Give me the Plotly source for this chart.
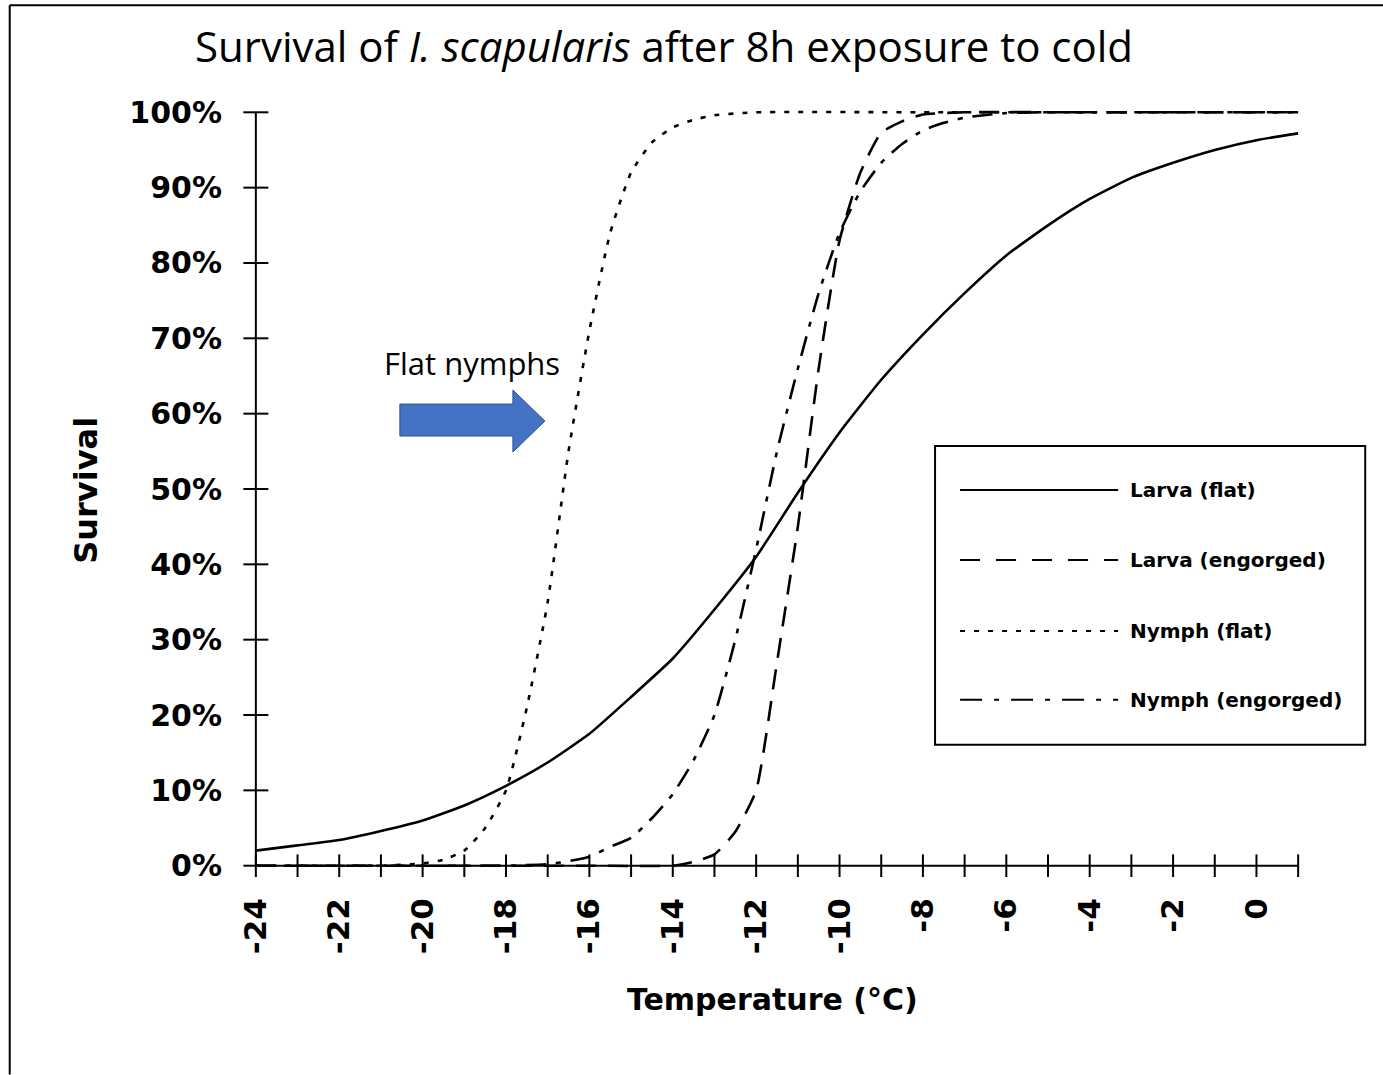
import plotly.graph_objects as go

# ---------------- data ----------------
larva_flat_temp = [-24, -23, -22, -21, -20, -19, -18, -17, -16, -15, -14, -13, -12,
                   -11, -10, -9, -8, -7, -6, -5, -4, -3, -2, -1, 0, 1]
larva_flat_surv = [2.0, 2.7, 3.4, 4.6, 6.0, 8.0, 10.6, 13.7, 17.5, 22.4, 27.5, 34.0, 41.0,
                   49.5, 57.5, 64.5, 70.5, 76.0, 81.0, 85.0, 88.5, 91.3, 93.3, 95.0, 96.3, 97.2]

larva_eng_temp = [-24, -20, -16, -14, -13.5, -13, -12.5, -12, -11.5, -11, -10.5, -10,
                  -9.5, -9, -8.5, -8, -7, -4, 0, 1]
larva_eng_surv = [0, 0, 0, 0, 0.5, 1.5, 4.5, 10.0, 27.0, 45.0, 66.0, 83.0,
                  92.0, 97.3, 98.8, 99.7, 100, 100, 100, 100]

nymph_flat_temp = [-24, -22, -21, -20, -19.5, -19, -18.5, -18, -17.5, -17, -16.5, -16,
                   -15.5, -15, -14.5, -14, -13.5, -13, -12, -8, -4, 0, 1]
nymph_flat_surv = [0, 0, 0, 0.3, 0.8, 2.0, 5.0, 10.0, 21.0, 35.0, 55.0, 71.0,
                   84.0, 92.0, 96.0, 98.0, 99.0, 99.6, 100, 100, 100, 100, 100]

nymph_eng_temp = [-24, -20, -18, -17, -16.5, -16, -15.5, -15, -14.5, -14, -13.5, -13,
                  -12.5, -12, -11.5, -11, -10.5, -10, -9.5, -9, -8.5, -8, -7.5, -7,
                  -6, -5, 0, 1]
nymph_eng_surv = [0, 0, 0, 0.2, 0.6, 1.2, 2.5, 3.7, 6.3, 9.5, 14.0, 20.0,
                  30.0, 42.0, 55.0, 66.0, 76.0, 84.0, 89.5, 93.3, 95.8, 97.6, 98.6, 99.3,
                  99.9, 100, 100, 100]

series_names = ["Larva (flat)", "Larva (engorged)", "Nymph (flat)", "Nymph (engorged)"]
series_dash = ["solid", "20px,12px", "5px,9px", "20px,10px,5px,10px"]

x_tick_vals = list(range(-24, 1, 2))
x_tick_text = [str(v) for v in x_tick_vals]
y_tick_vals = list(range(0, 101, 10))
y_tick_text = [f"{v}%" for v in y_tick_vals]
x_minor = list(range(-24, 2))

title_html = "Survival of <i>I. scapularis</i> after 8h exposure to cold"

# ---------------- layout geometry ----------------
W, H = 1383, 1075
XR = [-24.5, 1.5]
YR = [-1.5, 101.5]
L, R, T, B = 235.2, 64.2, 100.7, 197.7
PW = W - L - R
PH = H - T - B


def px(xp):
    return (xp - L) / PW


def py(yp):
    return 1 - (yp - T) / PH


BOLD = "DejaVu Sans"

fig = go.Figure()
series = [
    (larva_flat_temp, larva_flat_surv),
    (larva_eng_temp, larva_eng_surv),
    (nymph_flat_temp, nymph_flat_surv),
    (nymph_eng_temp, nymph_eng_surv),
]
for (xs, ys), name, dash in zip(series, series_names, series_dash):
    fig.add_trace(go.Scatter(
        x=xs, y=ys, mode="lines", name=name,
        line=dict(color="black", width=2.6, dash=dash, shape="spline", smoothing=0.5),
        showlegend=False,
    ))

shapes = []
# axis lines
shapes.append(dict(type="line", xref="x", yref="y", x0=-24, x1=1, y0=0, y1=0,
                   line=dict(color="black", width=2)))
shapes.append(dict(type="line", xref="x", yref="y", x0=-24, x1=-24, y0=0, y1=100,
                   line=dict(color="black", width=2)))
# crossing ticks
for v in x_minor:
    shapes.append(dict(type="line", xref="x", yref="y", x0=v, x1=v, y0=-1.6, y1=1.5,
                       line=dict(color="black", width=2)))
for v in y_tick_vals:
    shapes.append(dict(type="line", xref="x", yref="y", x0=-24.3, x1=-23.7, y0=v, y1=v,
                       line=dict(color="black", width=2)))

# outer frame (top and left edges)
shapes.append(dict(type="line", xref="paper", yref="paper", x0=px(10), x1=px(1383),
                   y0=py(5), y1=py(5), line=dict(color="black", width=2)))
shapes.append(dict(type="line", xref="paper", yref="paper", x0=px(10), x1=px(10),
                   y0=py(5), y1=py(1075), line=dict(color="black", width=2)))

# legend box
shapes.append(dict(type="rect", xref="paper", yref="paper", x0=px(935), x1=px(1365),
                   y0=py(446), y1=py(745), line=dict(color="black", width=2)))
legend_y = [490, 560, 631, 700]
legend_dash = ["solid", "20px,16px", "5px,9px", "22px,12px,5px,12px"]
annotations = []
for name, dash, yp in zip(series_names, legend_dash, legend_y):
    shapes.append(dict(type="line", xref="paper", yref="paper", x0=px(960), x1=px(1118),
                       y0=py(yp), y1=py(yp), line=dict(color="black", width=2, dash=dash)))
    annotations.append(dict(xref="paper", yref="paper", x=px(1128), y=py(yp),
                            xanchor="left", yanchor="middle", showarrow=False, text=name,
                            font=dict(family=BOLD, size=20, color="black", weight="bold")))

# blue block arrow
arrow_pts = [(400, 404), (513, 404), (513, 390), (545, 421), (513, 452), (513, 436), (400, 436)]
path = "M " + " L ".join(f"{px(a):.5f},{py(b):.5f}" for a, b in arrow_pts) + " Z"
shapes.append(dict(type="path", xref="paper", yref="paper", path=path,
                   fillcolor="#4472C4", line=dict(color="#2F528F", width=1)))

annotations.append(dict(xref="paper", yref="paper", x=px(472), y=py(363),
                        xanchor="center", yanchor="middle", showarrow=False,
                        text="Flat nymphs",
                        font=dict(family="Open Sans", size=31, color="black")))

# title
annotations.append(dict(xref="paper", yref="paper", x=px(664), y=py(45),
                        xanchor="center", yanchor="middle", showarrow=False,
                        text=title_html,
                        font=dict(family="Open Sans", size=42, color="black")))
# axis titles
annotations.append(dict(xref="paper", yref="paper", x=px(86), y=py(490),
                        xanchor="center", yanchor="middle", showarrow=False,
                        text="Survival", textangle=-90,
                        font=dict(family=BOLD, size=32, color="black", weight="bold")))
annotations.append(dict(xref="paper", yref="paper", x=px(773), y=py(1000),
                        xanchor="center", yanchor="middle", showarrow=False,
                        text="Temperature (°C)",
                        font=dict(family=BOLD, size=30, color="black", weight="bold")))

fig.update_layout(
    width=W, height=H,
    margin=dict(l=L, r=R, t=T, b=B, pad=0),
    paper_bgcolor="white", plot_bgcolor="white",
    showlegend=False,
    shapes=shapes,
    annotations=annotations,
    xaxis=dict(range=XR, showgrid=False, zeroline=False, showline=False,
               tickmode="array", tickvals=x_tick_vals, ticktext=x_tick_text,
               ticks="", tickangle=-90, ticklabelstandoff=14,
               tickfont=dict(family=BOLD, size=31, color="black", weight="bold")),
    yaxis=dict(range=YR, showgrid=False, zeroline=False, showline=False,
               tickmode="array", tickvals=y_tick_vals, ticktext=y_tick_text,
               ticks="", ticklabelstandoff=12,
               tickfont=dict(family=BOLD, size=30, color="black", weight="bold")),
)

fig.write_html("out.html")
